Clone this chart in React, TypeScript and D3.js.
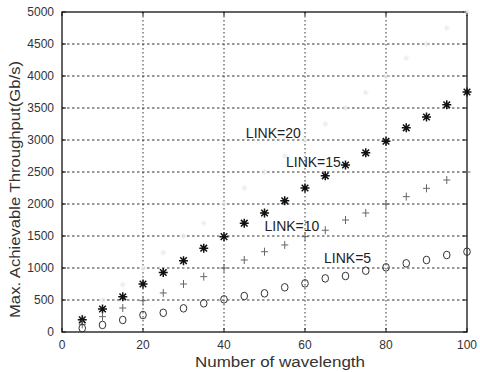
import React, { useEffect, useRef } from 'react';
import * as d3 from 'd3';

// number of wavelengths (x)
const wavelengths = [5, 10, 15, 20, 25, 30, 35, 40, 45, 50, 55, 60, 65, 70, 75, 80, 85, 90, 95, 100];

// max achievable throughput (Gb/s)
const link5 = [60, 110, 188, 265, 300, 370, 448, 510, 562, 604, 698, 760, 838, 875, 958, 1010, 1073, 1125, 1203, 1255];
const link10 = [120, 240, 375, 490, 610, 750, 865, 1000, 1125, 1255, 1360, 1490, 1590, 1750, 1860, 2000, 2115, 2245, 2375, 2500];
const link15 = [190, 360, 550, 750, 930, 1115, 1310, 1490, 1700, 1860, 2050, 2250, 2440, 2610, 2800, 2980, 3190, 3360, 3550, 3750];
const link20 = [250, 500, 740, 1000, 1240, 1500, 1700, 2010, 2250, 2500, 2750, 3000, 3250, 3500, 3740, 4000, 4280, 4500, 4750, 5000];

const xTicks = [0, 20, 40, 60, 80, 100];
const yTicks = [0, 500, 1000, 1500, 2000, 2500, 3000, 3500, 4000, 4500, 5000];

const labels = [
    { text: 'LINK=20', w: 45.4, v: 3110 },
    { text: 'LINK=15', w: 55.3, v: 2650 },
    { text: 'LINK=10', w: 50, v: 1656 },
    { text: 'LINK=5', w: 64.7, v: 1160 },
];

const FONT = '"Liberation Sans", Arial, sans-serif';

const App = () => {
    const svgRef = useRef<SVGSVGElement>(null);

    useEffect(() => {
        const svg = d3.select(svgRef.current);
        svg.selectAll('*').remove();

        const left = 62, right = 467, top = 12, bottom = 332;
        const x = d3.scaleLinear().domain([0, 100]).range([left, right]);
        const y = d3.scaleLinear().domain([0, 5000]).range([bottom, top]);

        svg.append('rect').attr('width', 480).attr('height', 372).attr('fill', '#fff');

        // dotted grid
        const grid = svg.append('g').attr('stroke', '#333').attr('stroke-width', 1);
        grid.selectAll('.gx')
            .data(xTicks.slice(1, -1))
            .enter()
            .append('line')
            .attr('x1', d => x(d)).attr('x2', d => x(d))
            .attr('y1', top).attr('y2', bottom)
            .attr('stroke-dasharray', '1.5,2.5');
        grid.selectAll('.gy')
            .data(yTicks.slice(1, -1))
            .enter()
            .append('line')
            .attr('x1', left).attr('x2', right)
            .attr('y1', d => y(d)).attr('y2', d => y(d))
            .attr('stroke-dasharray', '2.5,2.5');

        // axes box + inward ticks
        svg.append('rect')
            .attr('x', left).attr('y', top)
            .attr('width', right - left).attr('height', bottom - top)
            .attr('fill', 'none').attr('stroke', '#111').attr('stroke-width', 1.3);
        const ticks = svg.append('g').attr('stroke', '#111');
        xTicks.forEach(t => {
            ticks.append('line').attr('x1', x(t)).attr('x2', x(t)).attr('y1', bottom).attr('y2', bottom - 4);
            ticks.append('line').attr('x1', x(t)).attr('x2', x(t)).attr('y1', top).attr('y2', top + 4);
        });
        yTicks.forEach(t => {
            ticks.append('line').attr('x1', left).attr('x2', left + 4).attr('y1', y(t)).attr('y2', y(t));
            ticks.append('line').attr('x1', right).attr('x2', right - 4).attr('y1', y(t)).attr('y2', y(t));
        });

        // tick labels
        const tl = svg.append('g').attr('font-family', FONT).attr('font-size', 12).attr('fill', '#333');
        tl.selectAll('.xt')
            .data(xTicks)
            .enter()
            .append('text')
            .attr('x', d => x(d)).attr('y', bottom + 17)
            .attr('text-anchor', 'middle')
            .text(d => d);
        tl.selectAll('.yt')
            .data(yTicks)
            .enter()
            .append('text')
            .attr('x', left - 8).attr('y', d => y(d) + 4)
            .attr('text-anchor', 'end')
            .text(d => d);

        // axis titles
        svg.append('text')
            .attr('x', 195).attr('y', 367)
            .attr('font-family', FONT).attr('font-size', 14).attr('fill', '#333')
            .attr('textLength', 170).attr('lengthAdjust', 'spacingAndGlyphs')
            .text('Number of wavelength');
        svg.append('text')
            .attr('transform', 'translate(20,318) rotate(-90)')
            .attr('font-family', FONT).attr('font-size', 14).attr('fill', '#333')
            .attr('textLength', 257).attr('lengthAdjust', 'spacingAndGlyphs')
            .text('Max. Achievable Throughput(Gb/s)');

        const pts = (vals: number[]) => wavelengths.map((w, i) => ({ w, v: vals[i] }));
        const starPath = 'M-4.5,0H4.5M0,-4.5V4.5M-3.3,-3.3L3.3,3.3M-3.3,3.3L3.3,-3.3';

        // LINK=20 (barely printed in the scan)
        svg.append('g').selectAll('path')
            .data(pts(link20))
            .enter()
            .append('path')
            .attr('transform', d => `translate(${x(d.w)},${y(d.v)})`)
            .attr('d', 'M-3,0H3M0,-3V3M-2,-2L2,2M-2,2L2,-2')
            .attr('fill', 'none').attr('stroke', '#e8e8e8').attr('stroke-width', 0.8);

        // LINK=15 bold stars
        svg.append('g').selectAll('path')
            .data(pts(link15))
            .enter()
            .append('path')
            .attr('transform', d => `translate(${x(d.w)},${y(d.v)})`)
            .attr('d', starPath)
            .attr('fill', 'none').attr('stroke', '#111').attr('stroke-width', 1.5);

        // LINK=10 plus
        svg.append('g').selectAll('path')
            .data(pts(link10))
            .enter()
            .append('path')
            .attr('transform', d => `translate(${x(d.w)},${y(d.v)})`)
            .attr('d', 'M-3.5,0H3.5M0,-4V4')
            .attr('fill', 'none').attr('stroke', '#666').attr('stroke-width', 1);

        // LINK=5 circles
        svg.append('g').selectAll('ellipse')
            .data(pts(link5))
            .enter()
            .append('ellipse')
            .attr('cx', d => x(d.w)).attr('cy', d => y(d.v))
            .attr('rx', 3.3).attr('ry', 3.8)
            .attr('fill', 'none').attr('stroke', '#333').attr('stroke-width', 1);

        // series annotations
        svg.append('g')
            .attr('font-family', FONT).attr('font-size', 14).attr('fill', '#222')
            .selectAll('text')
            .data(labels)
            .enter()
            .append('text')
            .attr('x', d => x(d.w)).attr('y', d => y(d.v) + 5)
            .text(d => d.text);
    }, []);

    return (
        <svg ref={svgRef} width={480} height={372} style={{ position: 'absolute', left: 0, top: 0 }} />
    );
};

export default App;
